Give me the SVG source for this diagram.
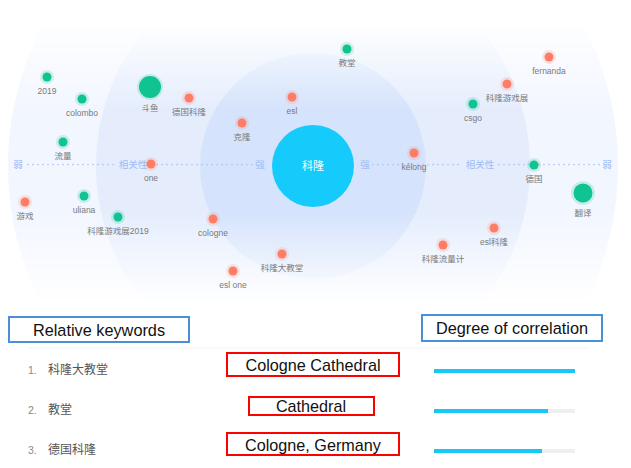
<svg xmlns="http://www.w3.org/2000/svg" width="631" height="468" viewBox="0 0 631 468">
<style>
.lbl{font-family:"Liberation Sans","Noto Sans CJK SC",sans-serif;font-size:8.5px;fill:#7a7a7a;text-anchor:middle}
.ax{font-family:"Noto Sans CJK SC","Liberation Sans",sans-serif;font-size:9.5px;fill:#9dbcf7;text-anchor:middle}
.dots{stroke:#a9c3f5;stroke-width:1.7;stroke-linecap:round;stroke-dasharray:0 5;fill:none}
.g{fill:#0fc490}.gh{fill:#0fc490;opacity:0.18}
.r{fill:#ff7d66}.rh{fill:#ff7d66;opacity:0.18}
.hdr{font-family:"Liberation Sans",Arial,sans-serif;font-size:16.3px;fill:#111;text-anchor:middle}
.bbox{fill:none;stroke:#4a90d9;stroke-width:2}
.rbox{fill:none;stroke:#ff0000;stroke-width:2}
.num{font-family:"Liberation Sans",sans-serif;font-size:10.5px;fill:#888}
.kw{font-family:"Noto Sans CJK SC","Liberation Sans",sans-serif;font-size:12px;fill:#555}
.en{font-family:"Liberation Sans",Arial,sans-serif;font-size:16.2px;fill:#111;text-anchor:middle}
.trk{fill:#efefef}.bar{fill:#17c7f5}
</style>
<defs>
<linearGradient id="fade" x1="0" y1="27" x2="0" y2="300" gradientUnits="userSpaceOnUse">
<stop offset="0" stop-color="#fff" stop-opacity="0.1"/>
<stop offset="0.3" stop-color="#fff" stop-opacity="1"/>
<stop offset="0.68" stop-color="#fff" stop-opacity="1"/>
<stop offset="1" stop-color="#fff" stop-opacity="0.05"/>
</linearGradient>
<mask id="m"><rect x="0" y="27" width="631" height="273" fill="url(#fade)"/></mask>
</defs>
<rect width="631" height="468" fill="#fff"/>
<g id="background" mask="url(#m)">
<circle cx="313" cy="166" r="305" fill="#f2f6ff"/>
<circle cx="313" cy="166" r="217" fill="#e5edfd"/>
<circle cx="313" cy="166" r="113" fill="#d5e3fc"/>
</g>
<g id="axis">
<line class="dots" x1="28" y1="164.5" x2="115" y2="164.5"/>
<line class="dots" x1="152" y1="164.5" x2="254" y2="164.5"/>
<line class="dots" x1="373" y1="164.5" x2="462" y2="164.5"/>
<line class="dots" x1="499" y1="164.5" x2="600" y2="164.5"/>
<text class="ax" x="18" y="168">弱</text>
<text class="ax" x="133" y="168">相关性</text>
<text class="ax" x="260" y="168">强</text>
<text class="ax" x="365" y="168">强</text>
<text class="ax" x="480" y="168">相关性</text>
<text class="ax" x="607" y="168">弱</text>
</g>
<g id="center">
<circle cx="313" cy="166" r="41" fill="#14cbfb"/>
<text x="313" y="170" font-family="Noto Sans CJK SC,Liberation Sans,sans-serif" font-size="11" fill="#fff" text-anchor="middle">科隆</text>
</g>
<g id="n-2019"><circle class="gh" cx="47" cy="77" r="7"/><circle class="g" cx="47" cy="77" r="4.5"/><text class="lbl" x="47" y="94">2019</text></g>
<g id="n-colombo"><circle class="gh" cx="82" cy="99" r="7"/><circle class="g" cx="82" cy="99" r="4.5"/><text class="lbl" x="82" y="116">colombo</text></g>
<g id="n-douyu"><circle class="gh" cx="150" cy="87" r="13"/><circle class="g" cx="150" cy="87" r="11"/><text class="lbl" x="150" y="111">斗鱼</text></g>
<g id="n-deguokelong"><circle class="rh" cx="189" cy="98" r="7"/><circle class="r" cx="189" cy="98" r="4.5"/><text class="lbl" x="189" y="115">德国科隆</text></g>
<g id="n-liuliang"><circle class="gh" cx="63" cy="142" r="7"/><circle class="g" cx="63" cy="142" r="4.5"/><text class="lbl" x="63" y="159">流量</text></g>
<g id="n-one"><circle class="rh" cx="151" cy="164" r="7"/><circle class="r" cx="151" cy="164" r="4.5"/><text class="lbl" x="151" y="181">one</text></g>
<g id="n-youxi"><circle class="rh" cx="25" cy="202" r="7"/><circle class="r" cx="25" cy="202" r="4.5"/><text class="lbl" x="25" y="219">游戏</text></g>
<g id="n-uliana"><circle class="gh" cx="84" cy="196" r="7"/><circle class="g" cx="84" cy="196" r="4.5"/><text class="lbl" x="84" y="213">uliana</text></g>
<g id="n-youxizhan2019"><circle class="gh" cx="118" cy="217" r="7"/><circle class="g" cx="118" cy="217" r="4.5"/><text class="lbl" x="118" y="234">科隆游戏展2019</text></g>
<g id="n-jiaotang"><circle class="gh" cx="347" cy="49" r="7"/><circle class="g" cx="347" cy="49" r="4.5"/><text class="lbl" x="347" y="66">教堂</text></g>
<g id="n-esl"><circle class="rh" cx="292" cy="97" r="7"/><circle class="r" cx="292" cy="97" r="4.5"/><text class="lbl" x="292" y="114">esl</text></g>
<g id="n-kelong2"><circle class="rh" cx="242" cy="123" r="7"/><circle class="r" cx="242" cy="123" r="4.5"/><text class="lbl" x="242" y="140">克隆</text></g>
<g id="n-kelong3"><circle class="rh" cx="414" cy="153" r="7"/><circle class="r" cx="414" cy="153" r="4.5"/><text class="lbl" x="414" y="170">kélong</text></g>
<g id="n-cologne"><circle class="rh" cx="213" cy="219" r="7"/><circle class="r" cx="213" cy="219" r="4.5"/><text class="lbl" x="213" y="236">cologne</text></g>
<g id="n-dajiaotang"><circle class="rh" cx="282" cy="254" r="7"/><circle class="r" cx="282" cy="254" r="4.5"/><text class="lbl" x="282" y="271">科隆大教堂</text></g>
<g id="n-eslone"><circle class="rh" cx="233" cy="271" r="7"/><circle class="r" cx="233" cy="271" r="4.5"/><text class="lbl" x="233" y="288">esl one</text></g>
<g id="n-fernanda"><circle class="rh" cx="549" cy="57" r="7"/><circle class="r" cx="549" cy="57" r="4.5"/><text class="lbl" x="549" y="74">fernanda</text></g>
<g id="n-youxizhan"><circle class="rh" cx="507" cy="84" r="7"/><circle class="r" cx="507" cy="84" r="4.5"/><text class="lbl" x="507" y="101">科隆游戏展</text></g>
<g id="n-csgo"><circle class="gh" cx="473" cy="104" r="7"/><circle class="g" cx="473" cy="104" r="4.5"/><text class="lbl" x="473" y="121">csgo</text></g>
<g id="n-deguo"><circle class="gh" cx="534" cy="165" r="7"/><circle class="g" cx="534" cy="165" r="4.5"/><text class="lbl" x="534" y="182">德国</text></g>
<g id="n-fanyi"><circle class="gh" cx="583" cy="193" r="12"/><circle class="g" cx="583" cy="193" r="9.5"/><text class="lbl" x="583" y="216">翻译</text></g>
<g id="n-eslkelong"><circle class="rh" cx="494" cy="228" r="7"/><circle class="r" cx="494" cy="228" r="4.5"/><text class="lbl" x="494" y="245">esl科隆</text></g>
<g id="n-liuliangji"><circle class="rh" cx="443" cy="245" r="7"/><circle class="r" cx="443" cy="245" r="4.5"/><text class="lbl" x="443" y="262">科隆流量计</text></g>
<g id="table">
<rect class="bbox" x="9" y="317" width="180" height="25"/>
<text class="hdr" x="99" y="335.5">Relative keywords</text>
<rect class="bbox" x="422" y="315" width="180" height="26"/>
<text class="hdr" x="512" y="333.5">Degree of correlation</text>
<line x1="28" y1="348" x2="587" y2="348" stroke="#f2f2f2" stroke-width="1"/>
<text class="num" x="28" y="374">1.</text><text class="kw" x="48" y="374">科隆大教堂</text>
<text class="num" x="28" y="414">2.</text><text class="kw" x="48" y="414">教堂</text>
<text class="num" x="28" y="454">3.</text><text class="kw" x="48" y="454">德国科隆</text>
<rect class="rbox" x="227" y="353" width="172" height="23"/>
<text class="en" x="313" y="370.5">Cologne Cathedral</text>
<rect class="rbox" x="249" y="397" width="125" height="18"/>
<text class="en" x="311" y="412">Cathedral</text>
<rect class="rbox" x="227" y="433" width="172" height="22"/>
<text class="en" x="313" y="450.5">Cologne, Germany</text>
<rect class="trk" x="434" y="369" width="141" height="4"/><rect class="bar" x="434" y="369" width="141" height="4"/>
<rect class="trk" x="434" y="409" width="141" height="4"/><rect class="bar" x="434" y="409" width="114" height="4"/>
<rect class="trk" x="434" y="449" width="141" height="4"/><rect class="bar" x="434" y="449" width="108" height="4"/>
</g>
</svg>
